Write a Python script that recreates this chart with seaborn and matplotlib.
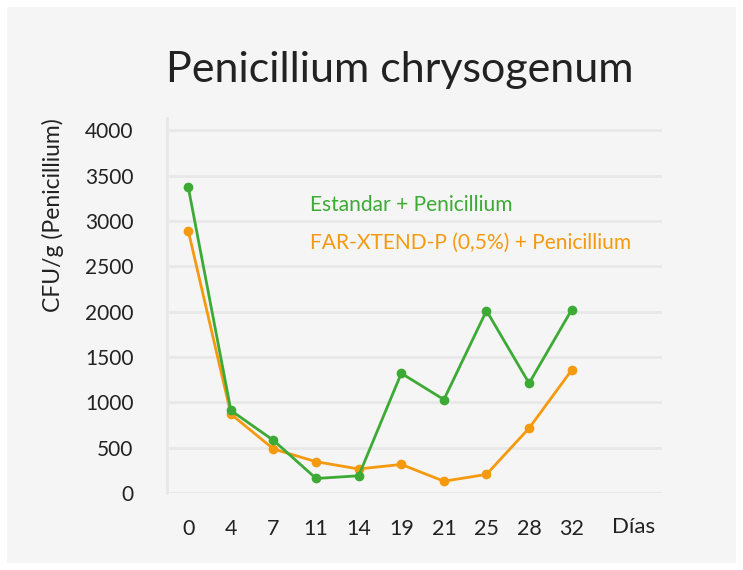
import matplotlib
matplotlib.use("Agg")
import matplotlib.pyplot as plt
import seaborn as sns
import pandas as pd
from matplotlib.ticker import FixedLocator

dias = ["0", "4", "7", "11", "14", "19", "21", "25", "28", "32"]
estandar = [3370, 910, 580, 160, 190, 1320, 1030, 2010, 1210, 2020]
farxtend = [2890, 870, 485, 345, 265, 315, 130, 205, 715, 1355]
serie_names = ["Estandar + Penicillium", "FAR-XTEND-P (0,5%) + Penicillium"]
yticks = [0, 500, 1000, 1500, 2000, 2500, 3000, 3500, 4000]

GREEN = "#3DAA36"
ORANGE = "#F5990F"
GRID = "#E8E8E8"
BG = "#F5F5F5"
TXT = "#222222"

sns.set_theme(style="white")
plt.rcParams["font.family"] = ["Lato", "DejaVu Sans"]

df = pd.DataFrame({
    "dia": dias * 2,
    "cfu": estandar + farxtend,
    "serie": [serie_names[0]] * len(dias) + [serie_names[1]] * len(dias),
})

fig = plt.figure(figsize=(7.43, 5.70), dpi=100)
fig.patch.set_facecolor("white")
fig.patches.append(plt.Rectangle((7 / 743, 7 / 570), 729 / 743, 556 / 570,
                                 transform=fig.transFigure, facecolor=BG,
                                 edgecolor="none", zorder=-10))

ax = fig.add_axes([167 / 743, 77 / 570, 495 / 743, 375 / 570])
ax.set_facecolor("none")

sns.lineplot(data=df, x="dia", y="cfu", hue="serie",
             palette={serie_names[0]: GREEN, serie_names[1]: ORANGE},
             hue_order=serie_names[::-1],
             marker="o", markersize=7, markeredgewidth=0, linewidth=2,
             legend=False, sort=False, ax=ax, zorder=3)

ax.set_xlim(-0.5, 11.12)
ax.set_ylim(0, 4135)

ax.set_yticks(yticks)
ax.set_yticklabels([str(v) for v in yticks])
ax.grid(axis="y", color=GRID, linewidth=2)
ax.set_axisbelow(True)

for s in ["top", "right", "bottom"]:
    ax.spines[s].set_visible(False)
ax.spines["left"].set_color(GRID)
ax.spines["left"].set_linewidth(2)

ax.xaxis.set_minor_locator(FixedLocator([i - 0.5 for i in range(len(dias) + 1)]))
ax.tick_params(axis="x", which="major", length=0, pad=18.5, labelsize=15.5, labelcolor=TXT)
ax.tick_params(axis="x", which="minor", length=10, width=2, color=GRID, direction="out")
ax.tick_params(axis="y", which="major", length=10, width=2, color=GRID, pad=14, labelsize=15, labelcolor=TXT)

ax.set_xlabel("")
ax.set_ylabel("CFU/g (Penicillium)", fontsize=16.5, color=TXT)
ax.yaxis.set_label_coords(-0.208, 0.741)

ax.text(10.46, -0.09, "Días", transform=ax.get_xaxis_transform(),
        ha="center", va="center", fontsize=16, color=TXT)

fig.text(400 / 743, 1 - 82 / 570, "Penicillium chrysogenum", ha="center",
         va="baseline", fontsize=31, color=TXT)
fig.text(310 / 743, 1 - 205 / 570, serie_names[0], ha="left", va="center",
         fontsize=15.1, color=GREEN)
fig.text(310 / 743, 1 - 243 / 570, serie_names[1], ha="left", va="center",
         fontsize=15.1, color=ORANGE)

fig.savefig("out.png", dpi=100, facecolor=fig.get_facecolor())
